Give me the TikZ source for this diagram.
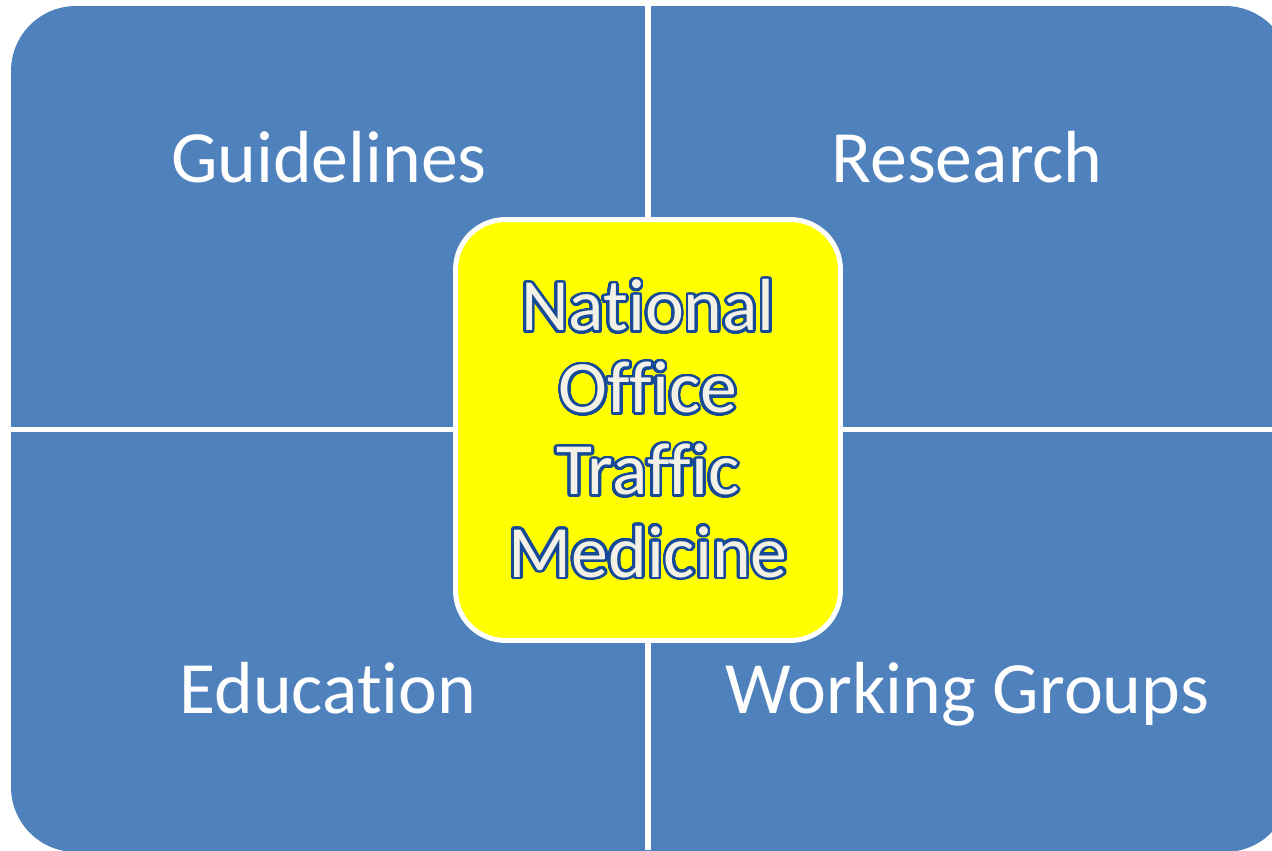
\documentclass[tikz,border=0pt]{standalone}
\usepackage{fontspec}
\setmainfont{Carlito}[Ligatures=NoCommon]
\usepackage{contour}
\contourlength{1.6pt}
\contournumber{32}
\definecolor{panelblue}{HTML}{4F81BD}
\definecolor{hubyellow}{HTML}{FFFF00}
\definecolor{letterfill}{HTML}{F3F0E6}
\definecolor{letteredge}{HTML}{174A96}
% outlined lettering for the hub
\newcommand{\hubword}[1]{\contour{letteredge}{\textcolor{letterfill}{#1}}}
\tikzset{
  area/.style={text=white, font=\fontsize{42}{50}\selectfont},
  hub/.style={draw=white, line width=0.1cm, fill=hubyellow, rounded corners=1cm,
    minimum width=7.7cm, minimum height=8.42cm, align=center,
    font=\fontsize{42}{46.7}\selectfont}
}
\begin{document}
\begin{tikzpicture}[x=0.02cm,y=-0.02cm]
\useasboundingbox (0,0) rectangle (1272,850);
\clip (0,0) rectangle (1272,850);
% blue panel, split in four by white gaps
\fill[panelblue, rounded corners=1.3cm] (11,6) rectangle (1290,852);
\draw[white, line width=0.12cm] (648,0) -- (648,850);
\draw[white, line width=0.1cm] (0,429.5) -- (1272,429.5);
% quadrant labels
\node[area, anchor=base] (guide) at (329,182) {Guidelines};
\node[area, anchor=base] (research) at (967,182) {Research};
\node[area, anchor=base] (educ) at (328,713) {Education};
\node[area, anchor=base] (groups) at (967,713) {Working Groups};
% the hub in the middle
\node[hub] (nofm) at (648,430) {\hubword{National}\\\hubword{Office}\\\hubword{Traffic}\\\hubword{Medicine}};
\end{tikzpicture}
\end{document}
